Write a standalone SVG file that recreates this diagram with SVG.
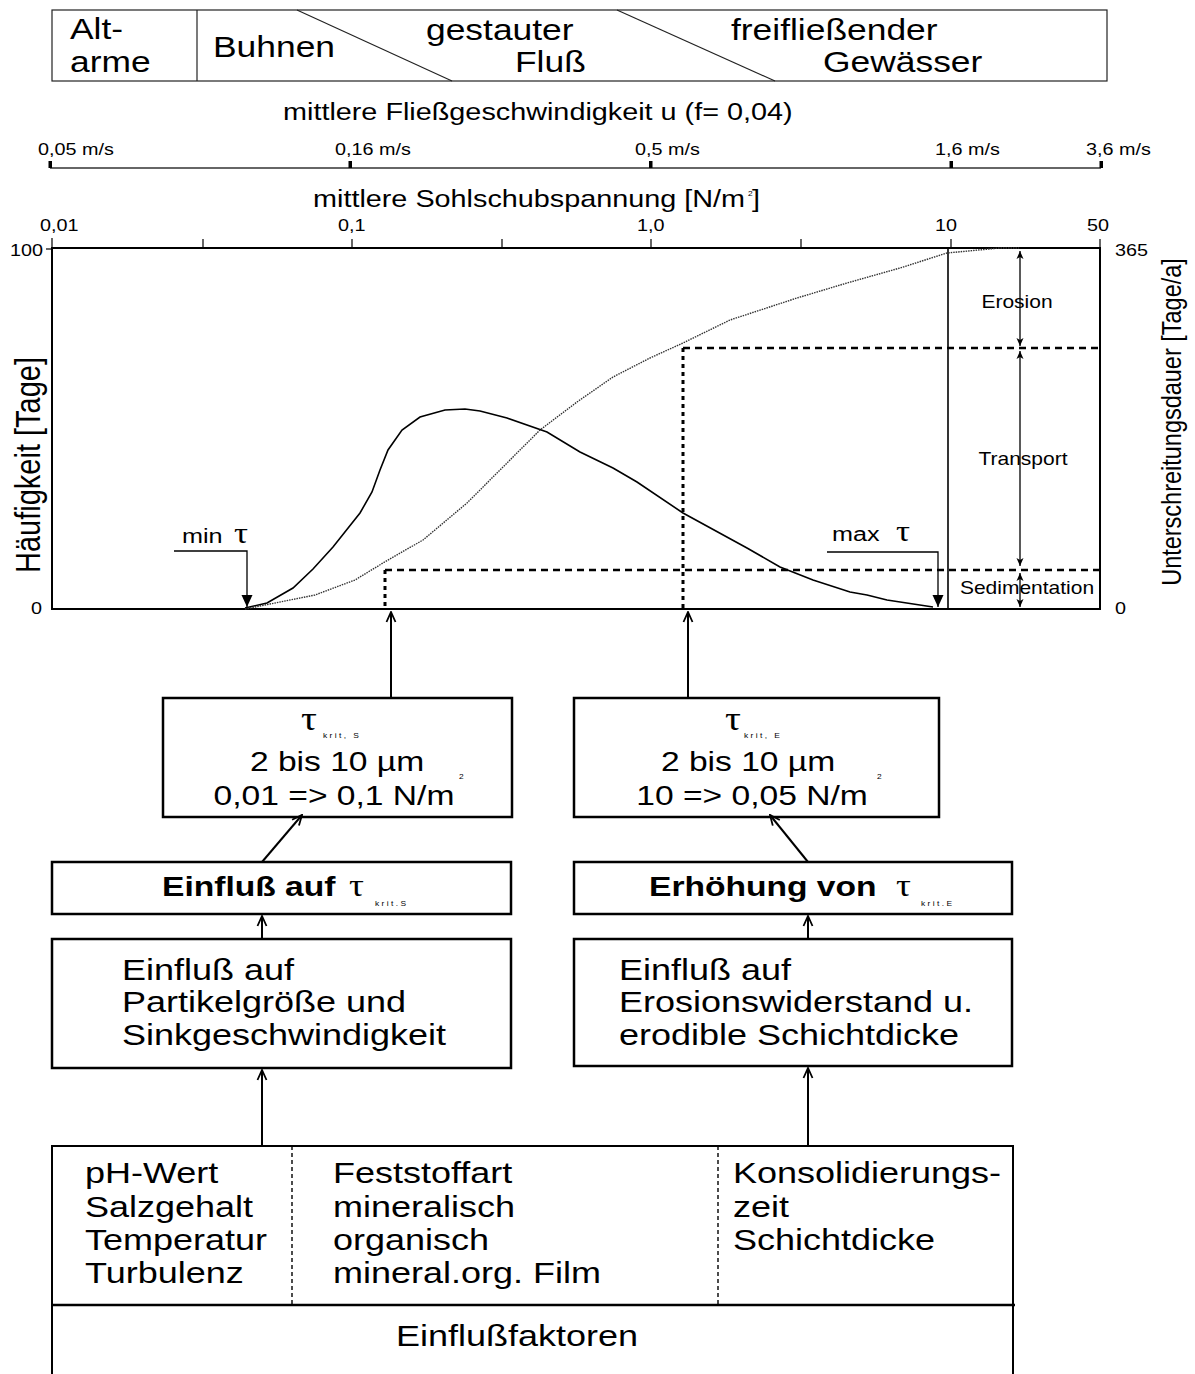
<svg xmlns="http://www.w3.org/2000/svg" width="1195" height="1374" viewBox="0 0 1195 1374">
<style>
  text { font-family: "Liberation Sans", Arial, sans-serif; fill: #000; }
  .big { font-size: 30px; }
  .hdr { font-size: 29.5px; }
  .ttl { font-size: 24px; }
  .ax { font-size: 16.5px; }
  .lbl { font-size: 17.5px; }
  .tau { font-family: "Liberation Serif", "DejaVu Serif", serif; }
  .tiny { font-size: 7px; letter-spacing: 2px; }
  .bold { font-size: 28px; font-weight: bold; }
  .mid { text-anchor: middle; }
  .box { fill: #fff; stroke: #000; stroke-width: 2.5; }
  .thin { fill: none; stroke: #222; stroke-width: 1.2; }
  .frame { fill: none; stroke: #000; stroke-width: 2; }
  .conn { fill: none; stroke: #000; stroke-width: 2; }
  .dash { fill: none; stroke: #000; stroke-width: 2.5; stroke-dasharray: 7 5; }
  .dotv { fill: none; stroke: #000; stroke-width: 3; stroke-dasharray: 4 4; }
  .sep { fill: none; stroke: #000; stroke-width: 1.4; stroke-dasharray: 4 3; }
</style>
<defs>
  <marker id="ah" viewBox="0 0 12 12" refX="11" refY="6" markerWidth="12" markerHeight="12" orient="auto" markerUnits="userSpaceOnUse">
    <path d="M1,1.5 L11,6 L1,10.5" fill="none" stroke="#000" stroke-width="1.8"/>
  </marker>
  <marker id="tri" viewBox="0 0 12 12" refX="12" refY="6" markerWidth="12" markerHeight="12" orient="auto" markerUnits="userSpaceOnUse">
    <path d="M0,0.5 L12,6 L0,11.5 Z" fill="#000"/>
  </marker>
  <marker id="sm" viewBox="0 0 8 8" refX="8" refY="4" markerWidth="8" markerHeight="8" orient="auto-start-reverse" markerUnits="userSpaceOnUse">
    <path d="M0,0.5 L8,4 L0,7.5 L2,4 Z" fill="#000"/>
  </marker>
</defs>
<rect width="1195" height="1374" fill="#fff"/>

<!-- Header band -->
<g id="header">
  <rect x="52" y="10" width="1055" height="71" class="thin"/>
  <line x1="197" y1="10" x2="197" y2="81" class="thin"/>
  <line x1="297" y1="10" x2="452" y2="81" class="thin"/>
  <line x1="617" y1="10" x2="775" y2="81" class="thin"/>
  <text class="hdr" transform="matrix(1.2 0 0 1 70 39)">Alt-</text>
  <text class="hdr" transform="matrix(1.2 0 0 1 70 72)">arme</text>
  <text class="hdr" transform="matrix(1.2 0 0 1 213 57)">Buhnen</text>
  <text class="hdr" transform="matrix(1.2 0 0 1 426 40)">gestauter</text>
  <text class="hdr" transform="matrix(1.2 0 0 1 515 72)">Fluß</text>
  <text class="hdr" transform="matrix(1.2 0 0 1 731 40)">freifließender</text>
  <text class="hdr" transform="matrix(1.2 0 0 1 823 72)">Gewässer</text>
</g>

<!-- Velocity axis -->
<g id="velocity-axis">
  <text class="ttl" transform="matrix(1.2 0 0 1 283 120)">mittlere Fließgeschwindigkeit u (f= 0,04)</text>
  <line x1="50" y1="168" x2="1101" y2="168" stroke="#333" stroke-width="1.6"/>
  <rect x="48.5" y="161" width="3.5" height="7" fill="#000"/>
  <rect x="348.5" y="161" width="3.5" height="7" fill="#000"/>
  <rect x="649" y="161" width="3.5" height="7" fill="#000"/>
  <rect x="949.5" y="161" width="3.5" height="7" fill="#000"/>
  <rect x="1099.5" y="161" width="3.5" height="7" fill="#000"/>
  <text class="ax" transform="matrix(1.2 0 0 1 38 155)">0,05 m/s</text>
  <text class="ax" transform="matrix(1.2 0 0 1 335 155)">0,16 m/s</text>
  <text class="ax" transform="matrix(1.2 0 0 1 635 155)">0,5 m/s</text>
  <text class="ax" transform="matrix(1.2 0 0 1 935 155)">1,6 m/s</text>
  <text class="ax" transform="matrix(1.2 0 0 1 1086 155)">3,6 m/s</text>
</g>

<!-- Shear stress axis and chart -->
<g id="chart">
  <text class="ttl" transform="matrix(1.2 0 0 1 313 207)">mittlere Sohlschubspannung [N/m</text>
  <text class="tiny" transform="matrix(1.2 0 0 1 748 196)">2</text>
  <text class="ttl" transform="matrix(1.2 0 0 1 752 207)">]</text>
  <text class="ax" transform="matrix(1.2 0 0 1 40 231)">0,01</text>
  <text class="ax" transform="matrix(1.2 0 0 1 338 231)">0,1</text>
  <text class="ax" transform="matrix(1.2 0 0 1 637 231)">1,0</text>
  <text class="ax" transform="matrix(1.2 0 0 1 935 231)">10</text>
  <text class="ax" transform="matrix(1.2 0 0 1 1087 231)">50</text>
  <text class="ax" transform="matrix(1.2 0 0 1 10 256)">100</text>
  <text class="ax" transform="matrix(1.2 0 0 1 31 614)">0</text>
  <text class="ax" transform="matrix(1.2 0 0 1 1115 256)">365</text>
  <text class="ax" transform="matrix(1.2 0 0 1 1115 614)">0</text>
  <rect x="52" y="248" width="1048" height="361" class="frame"/>
  <g stroke="#000" stroke-width="1.2">
    <line x1="52" y1="238" x2="52" y2="248"/>
    <line x1="203" y1="239" x2="203" y2="248"/>
    <line x1="352" y1="239" x2="352" y2="248"/>
    <line x1="502" y1="239" x2="502" y2="248"/>
    <line x1="651" y1="239" x2="651" y2="248"/>
    <line x1="801" y1="239" x2="801" y2="248"/>
    <line x1="951" y1="239" x2="951" y2="248"/>
    <line x1="1100" y1="239" x2="1100" y2="248"/>
    <line x1="46" y1="249" x2="52" y2="249"/>
  </g>
  <line x1="948" y1="248" x2="948" y2="609" stroke="#000" stroke-width="1.6"/>
  <text font-size="29" transform="matrix(1.2 0 0 1 40 465) rotate(-90)" text-anchor="middle">Häufigkeit [Tage]</text>
  <text font-size="23.5" transform="matrix(1.2 0 0 1 1181 422) rotate(-90)" text-anchor="middle">Unterschreitungsdauer [Tage/a]</text>
  <!-- curves -->
  <path d="M245,608 L267,603 L293,588 L313,569 L333,547 L360,513 L372,492 L380,470 L388,450 L402,430 L420,417 L445,410 L465,409 L480,411 L507,418 L547,432 L580,452 L613,468 L637,482 L683,513 L747,548 L780,567 L813,580 L850,592 L867,595 L887,600 L933,607" fill="none" stroke="#000" stroke-width="1.6"/>
  <path d="M245,609 L270,604 L315,595 L355,580 L383,563 L423,540 L467,503 L503,467 L540,430 L577,402 L613,377 L650,358 L683,343 L730,320 L797,298 L847,283 L900,268 L947,253 L1000,248 L1019,248" fill="none" stroke="#333" stroke-width="1.4" stroke-dasharray="1.5 1"/>
  <!-- thresholds -->
  <line x1="683" y1="348" x2="1100" y2="348" class="dash"/>
  <line x1="683" y1="348" x2="683" y2="609" class="dotv"/>
  <line x1="385" y1="570" x2="1100" y2="570" class="dash"/>
  <line x1="385" y1="570" x2="385" y2="609" class="dotv"/>
  <!-- zone labels -->
  <text class="lbl mid" transform="matrix(1.2 0 0 1 1017 308)">Erosion</text>
  <text class="lbl mid" transform="matrix(1.2 0 0 1 1023 465)">Transport</text>
  <text class="lbl mid" transform="matrix(1.2 0 0 1 1027 594)">Sedimentation</text>
  <!-- min / max tau -->
  <text font-size="21" transform="matrix(1.2 0 0 1 182 543)">min</text>
  <text class="tau" font-size="29" transform="matrix(1.2 0 0 1 234 543)">τ</text>
  <text font-size="21" transform="matrix(1.2 0 0 1 832 541)">max</text>
  <text class="tau" font-size="29" transform="matrix(1.2 0 0 1 896 541)">τ</text>
</g>

<!-- Nodes -->
<g id="node-tau-s">
  <rect x="163" y="698" width="349" height="119" class="box"/>
  <text class="tau mid" font-size="33" transform="matrix(1.2 0 0 1 309 730)">τ</text>
  <text class="tiny" transform="matrix(1.2 0 0 1 323 738)">krit,  S</text>
  <text class="mid" font-size="28" transform="matrix(1.2 0 0 1 337 771)">2 bis 10 µm</text>
  <text class="mid" font-size="28" transform="matrix(1.2 0 0 1 334 805)">0,01 =&gt; 0,1 N/m</text>
  <text class="tiny" transform="matrix(1.2 0 0 1 459 779)">2</text>
</g>
<g id="node-tau-e">
  <rect x="574" y="698" width="365" height="119" class="box"/>
  <text class="tau mid" font-size="33" transform="matrix(1.2 0 0 1 733 730)">τ</text>
  <text class="tiny" transform="matrix(1.2 0 0 1 744 738)">krit,  E</text>
  <text class="mid" font-size="28" transform="matrix(1.2 0 0 1 748 771)">2 bis 10 µm</text>
  <text class="mid" font-size="28" transform="matrix(1.2 0 0 1 752 805)">10 =&gt; 0,05 N/m</text>
  <text class="tiny" transform="matrix(1.2 0 0 1 877 779)">2</text>
</g>
<g id="node-einfluss-tau">
  <rect x="52" y="862" width="459" height="52" class="box"/>
  <text class="bold" transform="matrix(1.2 0 0 1 162 896)">Einfluß auf</text>
  <text class="tau" font-size="31" transform="matrix(1.2 0 0 1 349 896)">τ</text>
  <text class="tiny" transform="matrix(1.2 0 0 1 375 906)">krit.S</text>
</g>
<g id="node-erhoehung-tau">
  <rect x="574" y="862" width="438" height="52" class="box"/>
  <text class="bold" transform="matrix(1.2 0 0 1 649 896)">Erhöhung von</text>
  <text class="tau" font-size="31" transform="matrix(1.2 0 0 1 896 896)">τ</text>
  <text class="tiny" transform="matrix(1.2 0 0 1 921 906)">krit.E</text>
</g>
<g id="node-partikel">
  <rect x="52" y="939" width="459" height="129" class="box"/>
  <text class="big" transform="matrix(1.2 0 0 1 122 980)">Einfluß auf</text>
  <text class="big" transform="matrix(1.2 0 0 1 122 1012)">Partikelgröße und</text>
  <text class="big" transform="matrix(1.2 0 0 1 122 1045)">Sinkgeschwindigkeit</text>
</g>
<g id="node-erosion">
  <rect x="574" y="939" width="438" height="127" class="box"/>
  <text class="big" transform="matrix(1.2 0 0 1 619 980)">Einfluß auf</text>
  <text class="big" transform="matrix(1.2 0 0 1 619 1012)">Erosionswiderstand u.</text>
  <text class="big" transform="matrix(1.2 0 0 1 619 1045)">erodible Schichtdicke</text>
</g>
<g id="node-einflussfaktoren">
  <polyline points="52,1374 52,1146 1013,1146 1013,1374" class="conn" stroke-width="2.5"/>
  <line x1="52" y1="1305" x2="1015" y2="1305" stroke="#000" stroke-width="2.5"/>
  <line x1="292" y1="1146" x2="292" y2="1305" class="sep"/>
  <line x1="718" y1="1146" x2="718" y2="1305" class="sep"/>
  <text class="big" transform="matrix(1.2 0 0 1 85 1183)">pH-Wert</text>
  <text class="big" transform="matrix(1.2 0 0 1 85 1217)">Salzgehalt</text>
  <text class="big" transform="matrix(1.2 0 0 1 85 1250)">Temperatur</text>
  <text class="big" transform="matrix(1.2 0 0 1 85 1283)">Turbulenz</text>
  <text class="big" transform="matrix(1.2 0 0 1 333 1183)">Feststoffart</text>
  <text class="big" transform="matrix(1.2 0 0 1 333 1217)">mineralisch</text>
  <text class="big" transform="matrix(1.2 0 0 1 333 1250)">organisch</text>
  <text class="big" transform="matrix(1.2 0 0 1 333 1283)">mineral.org. Film</text>
  <text class="big" transform="matrix(1.2 0 0 1 733 1183)">Konsolidierungs-</text>
  <text class="big" transform="matrix(1.2 0 0 1 733 1217)">zeit</text>
  <text class="big" transform="matrix(1.2 0 0 1 733 1250)">Schichtdicke</text>
  <text class="big mid" transform="matrix(1.2 0 0 1 517 1346)">Einflußfaktoren</text>
</g>

<!-- Connectors -->
<g id="connectors">
  <line x1="391" y1="697" x2="391" y2="612" class="conn" stroke-width="2.5" marker-end="url(#ah)"/>
  <line x1="688" y1="697" x2="688" y2="612" class="conn" stroke-width="2.5" marker-end="url(#ah)"/>
  <line x1="262" y1="862" x2="302" y2="815" class="conn" marker-end="url(#ah)"/>
  <line x1="808" y1="862" x2="770" y2="815" class="conn" marker-end="url(#ah)"/>
  <line x1="262" y1="939" x2="262" y2="916" class="conn" marker-end="url(#ah)"/>
  <line x1="808" y1="939" x2="808" y2="916" class="conn" marker-end="url(#ah)"/>
  <line x1="262" y1="1146" x2="262" y2="1070" class="conn" marker-end="url(#ah)"/>
  <line x1="808" y1="1146" x2="808" y2="1068" class="conn" marker-end="url(#ah)"/>
  <polyline points="174,551 247,551 247,607" fill="none" stroke="#000" stroke-width="1.3" marker-end="url(#tri)"/>
  <polyline points="827,552 938,552 938,607" fill="none" stroke="#000" stroke-width="1.3" marker-end="url(#tri)"/>
  <line x1="1020" y1="251" x2="1020" y2="346" stroke="#000" stroke-width="1.3" marker-start="url(#sm)" marker-end="url(#sm)"/>
  <line x1="1020" y1="351" x2="1020" y2="566" stroke="#000" stroke-width="1.3" marker-start="url(#sm)" marker-end="url(#sm)"/>
  <line x1="1020" y1="573" x2="1020" y2="607" stroke="#000" stroke-width="1.3" marker-start="url(#sm)" marker-end="url(#sm)"/>
</g>
</svg>
